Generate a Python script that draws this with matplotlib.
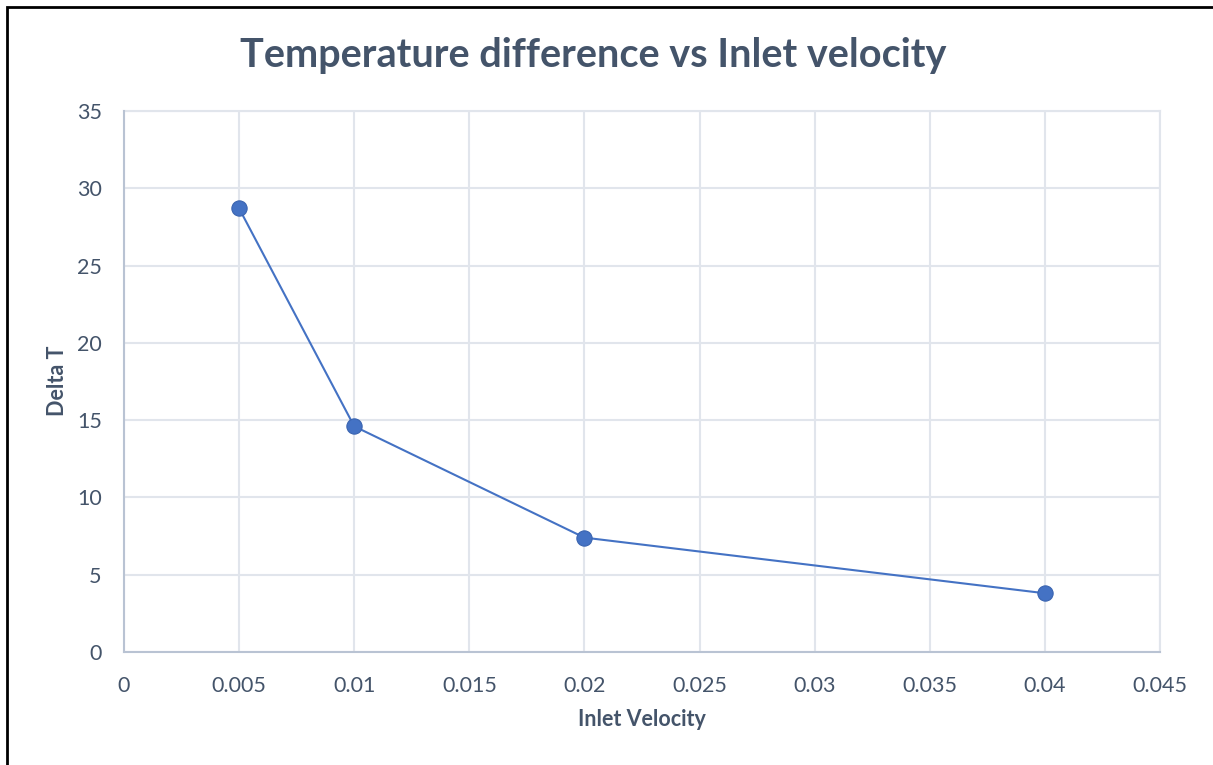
import matplotlib.pyplot as plt
from matplotlib.patches import Rectangle

# Data
inlet_velocity = [0.005, 0.01, 0.02, 0.04]
delta_t = [28.7, 14.6, 7.4, 3.8]

x_ticks = [0, 0.005, 0.01, 0.015, 0.02, 0.025, 0.03, 0.035, 0.04, 0.045]
x_tick_labels = ['0', '0.005', '0.01', '0.015', '0.02', '0.025', '0.03', '0.035', '0.04', '0.045']
y_ticks = [0, 5, 10, 15, 20, 25, 30, 35]

text_color = '#44546a'
grid_color = '#e1e5ec'
axis_color = '#b9c3d3'
series_color = '#4472c4'

plt.rcParams['font.family'] = ['Lato', 'DejaVu Sans']

fig = plt.figure(figsize=(12.13, 7.65), dpi=100)
ax = fig.add_axes([124 / 1213, 1 - 652 / 765, (1160 - 124) / 1213, (652 - 111) / 765])

# Outer chart border (only left and top visible in the reference)
fig.patches.append(Rectangle((7 / 1213, -0.1), 1.2, (765 - 7) / 765 + 0.1,
                             transform=fig.transFigure, fill=False,
                             edgecolor='black', linewidth=2))

ax.plot(inlet_velocity, delta_t, color=series_color, linewidth=1.5,
        marker='o', markersize=11, markerfacecolor=series_color,
        markeredgecolor='#3a64b0', markeredgewidth=0.8, zorder=3)

ax.set_xlim(0, 0.045)
ax.set_ylim(0, 35)
ax.set_xticks(x_ticks)
ax.set_xticklabels(x_tick_labels)
ax.set_yticks(y_ticks)

ax.grid(True, color=grid_color, linewidth=1.5)
ax.set_axisbelow(True)
for side in ['top', 'right']:
    ax.spines[side].set_visible(False)
for side in ['left', 'bottom']:
    ax.spines[side].set_color(axis_color)
    ax.spines[side].set_linewidth(1.5)

ax.tick_params(length=0, labelsize=15.5, colors=text_color)
ax.tick_params(axis='x', pad=17)
ax.tick_params(axis='y', pad=16)

# grid line at top/right edges
ax.axhline(35, color=grid_color, linewidth=1.5, zorder=0, clip_on=False)
ax.axvline(0.045, color=grid_color, linewidth=1.5, zorder=0, clip_on=False)

fig.text(593 / 1213, 1 - 55 / 765, 'Temperature difference vs Inlet velocity',
         ha='center', va='center', fontsize=28.5, fontweight='bold', color=text_color)
fig.text(642 / 1213, 1 - 720 / 765, 'Inlet Velocity',
         ha='center', va='center', fontsize=15.5, fontweight='bold', color=text_color)
fig.text(57 / 1213, 1 - 381 / 765, 'Delta T', rotation=90,
         ha='center', va='center', fontsize=15.5, fontweight='bold', color=text_color)

fig.savefig('out.png', dpi=100, facecolor='white')
